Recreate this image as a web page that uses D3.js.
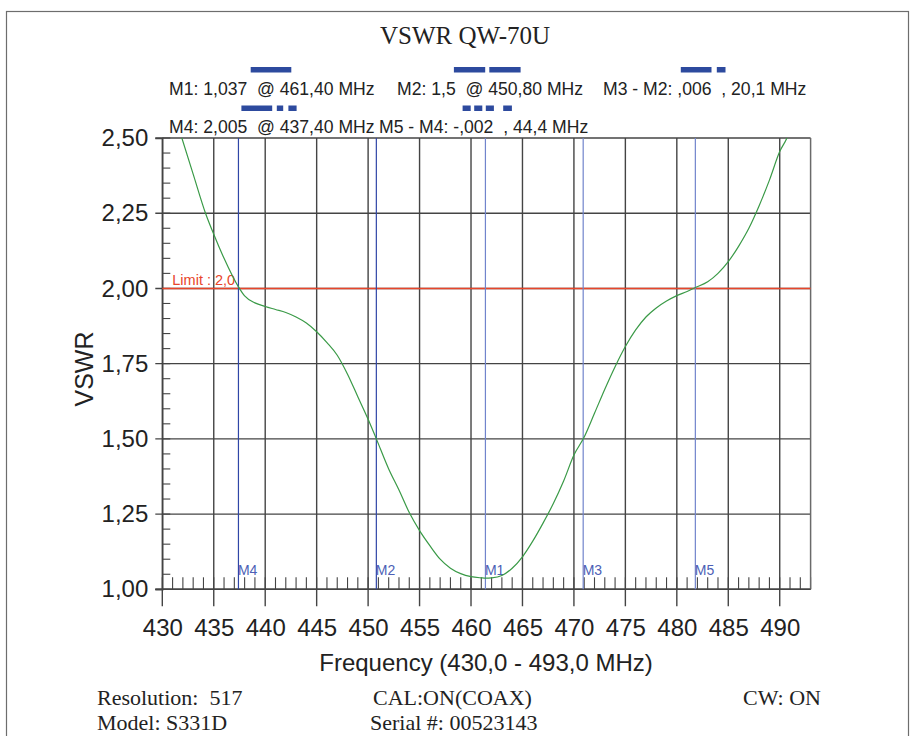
<!DOCTYPE html>
<html>
<head>
<meta charset="utf-8">
<script src="https://cdn.jsdelivr.net/npm/d3@7"></script>
<style>
  body { margin: 0; background: #fff; }
  svg text { white-space: pre; }
</style>
</head>
<body>
<div class="chart"></div>
<script>
// Sweep data (MHz / VSWR)
var freqs = [430, 431, 431.9, 433, 434.2, 435, 436, 437.4, 438, 439, 440, 441, 442, 443, 444, 445,
  446, 447, 448, 449, 450, 450.8, 452, 453, 454, 455, 456, 457, 458, 459, 460, 461, 461.4, 462,
  463, 464, 465, 466, 467, 468, 469, 470, 471, 472, 473, 474, 475, 476, 477, 478, 479, 480, 481,
  481.8, 483, 484, 485, 486, 487, 488, 489, 490, 490.7, 491.5, 493];
var vswr = [2.72, 2.60, 2.50, 2.38, 2.25, 2.18, 2.10, 2.005, 1.975, 1.952, 1.940, 1.930, 1.920, 1.905, 1.885, 1.856,
  1.820, 1.778, 1.715, 1.640, 1.565, 1.500, 1.400, 1.330, 1.255, 1.195, 1.145, 1.100, 1.070, 1.052, 1.042, 1.038, 1.037, 1.038,
  1.046, 1.070, 1.108, 1.160, 1.220, 1.285, 1.360, 1.446, 1.506, 1.585, 1.665, 1.740, 1.807, 1.862, 1.905, 1.935, 1.958, 1.976, 1.990,
  2.003, 2.022, 2.050, 2.089, 2.140, 2.200, 2.275, 2.360, 2.455, 2.500, 2.580, 2.750];

var markerNames = ["M1", "M2", "M3", "M4", "M5"];
var markerFreqs = [461.4, 450.8, 470.9, 437.4, 481.8];
var markerDark = [false, true, false, true, false];

var limitValue = 2.0;
var limitLabel = "Limit : 2,0";

var xTickValues = [430, 435, 440, 445, 450, 455, 460, 465, 470, 475, 480, 485, 490];
var yTickValues = [1.00, 1.25, 1.50, 1.75, 2.00, 2.25, 2.50];

var title = "VSWR QW-70U";
var legendRow1 = ["M1: 1,037  @ 461,40 MHz", "M2: 1,5  @ 450,80 MHz", "M3 - M2: ,006  , 20,1 MHz"];
var legendRow2 = ["M4: 2,005  @ 437,40 MHz", "M5 - M4: -,002  , 44,4 MHz"];
var infoLeft = ["Resolution:  517", "Model: S331D"];
var infoMid = ["CAL:ON(COAX)", "Serial #: 00523143"];
var infoRight = ["CW: ON"];

// Page + plot geometry
var svgWidth = 910, svgHeight = 736;
var plot = { left: 162.3, right: 810.6, top: 138, bottom: 589.3 };

var svg = d3.select(".chart").append("svg")
  .attr("width", svgWidth)
  .attr("height", svgHeight);

// outer frame
svg.append("rect")
  .attr("x", 6.5).attr("y", 11.5)
  .attr("width", 902).attr("height", 740)
  .attr("fill", "none").attr("stroke", "#6d6d6d").attr("stroke-width", 1.2);

var x = d3.scaleLinear().domain([430, 493]).range([plot.left, plot.right]);
var y = d3.scaleLinear().domain([1, 2.5]).range([plot.bottom, plot.top]);

var comma = d3.formatLocale({ decimal: ",", thousands: ".", grouping: [3], currency: ["", ""] });
var fmtY = comma.format(".2f");

var gridColor = "#444";

// minor y ticks every 0.05
svg.append("g").selectAll("line")
  .data(d3.range(1, 2.5001, 0.05))
  .enter().append("line")
  .attr("x1", plot.left).attr("x2", plot.left + 8)
  .attr("y1", d => y(d)).attr("y2", d => y(d))
  .attr("stroke", gridColor).attr("stroke-width", 1.1);

// minor x ticks every 1 MHz
svg.append("g").selectAll("line")
  .data(d3.range(430, 493.5, 1))
  .enter().append("line")
  .attr("x1", d => x(d)).attr("x2", d => x(d))
  .attr("y1", plot.bottom - 12).attr("y2", plot.bottom)
  .attr("stroke", gridColor).attr("stroke-width", 1.1);

// horizontal grid
svg.append("g").selectAll("line")
  .data(yTickValues)
  .enter().append("line")
  .attr("x1", plot.left - 7).attr("x2", plot.right)
  .attr("y1", d => y(d)).attr("y2", d => y(d))
  .attr("stroke", gridColor).attr("stroke-width", 1.4);

// vertical grid
svg.append("g").selectAll("line")
  .data(xTickValues)
  .enter().append("line")
  .attr("x1", d => x(d)).attr("x2", d => x(d))
  .attr("y1", plot.top).attr("y2", plot.bottom + 17)
  .attr("stroke", gridColor).attr("stroke-width", 1.4);

// right border
svg.append("line")
  .attr("x1", plot.right).attr("x2", plot.right)
  .attr("y1", plot.top).attr("y2", plot.bottom)
  .attr("stroke", "#6a6a6a").attr("stroke-width", 1.5);

// axes (labels only, lines drawn above)
var bottomAxis = d3.axisBottom(x).tickValues(xTickValues).tickSize(17).tickPadding(13).tickFormat(d3.format("d"));
var leftAxis = d3.axisLeft(y).tickValues(yTickValues).tickSize(7).tickPadding(7).tickFormat(fmtY);

var gx = svg.append("g")
  .attr("transform", `translate(0, ${plot.bottom})`)
  .call(bottomAxis);
var gy = svg.append("g")
  .attr("transform", `translate(${plot.left}, 0)`)
  .call(leftAxis);

[gx, gy].forEach(function(g) {
  g.select(".domain").attr("stroke", gridColor).attr("stroke-width", 1.4);
  g.selectAll(".tick line").attr("stroke", "none");
  g.selectAll(".tick text")
    .attr("font-family", "'Liberation Sans', Arial, sans-serif")
    .attr("font-size", 24)
    .attr("fill", "#222");
});
gx.select(".domain").attr("d", `M${plot.left - 7},0H${plot.right}`);

// limit line
svg.append("line")
  .attr("x1", plot.left).attr("x2", plot.right)
  .attr("y1", y(limitValue)).attr("y2", y(limitValue))
  .attr("stroke", "#e8452a").attr("stroke-width", 1.4);
svg.append("text")
  .attr("x", plot.left + 10).attr("y", y(limitValue) - 3)
  .attr("font-family", "'Liberation Sans', Arial, sans-serif")
  .attr("font-size", 14.5)
  .attr("fill", "#e8452a")
  .text(limitLabel);

// marker lines
var markers = markerNames.map((n, i) => ({ name: n, f: markerFreqs[i], dark: markerDark[i] }));
var mg = svg.append("g").selectAll("g")
  .data(markers)
  .enter().append("g");
mg.append("line")
  .attr("x1", d => x(d.f)).attr("x2", d => x(d.f))
  .attr("y1", plot.top).attr("y2", plot.bottom)
  .attr("stroke", d => d.dark ? "#2f46a6" : "#7184cc")
  .attr("stroke-width", 1.2);
mg.append("text")
  .attr("x", d => x(d.f) - 0.5)
  .attr("y", plot.bottom - 14.5)
  .attr("font-family", "'Liberation Sans', Arial, sans-serif")
  .attr("font-size", 14)
  .attr("fill", "#4d5fb6")
  .text(d => d.name);

// trace
svg.append("clipPath").attr("id", "plotClip")
  .append("rect")
  .attr("x", plot.left).attr("y", plot.top)
  .attr("width", plot.right - plot.left).attr("height", plot.bottom - plot.top);

var traceData = freqs.map((f, i) => ({ f: f, v: vswr[i] }));
var line = d3.line()
  .x(d => x(d.f))
  .y(d => y(d.v))
  .curve(d3.curveMonotoneX);

svg.append("path")
  .datum(traceData)
  .attr("clip-path", "url(#plotClip)")
  .attr("d", line)
  .attr("fill", "none")
  .attr("stroke", "#3a9a47")
  .attr("stroke-width", 1.2);

// axis titles
svg.append("text")
  .attr("transform", "translate(93, 369) rotate(-90)")
  .attr("text-anchor", "middle")
  .attr("font-family", "'Liberation Sans', Arial, sans-serif")
  .attr("font-size", 25)
  .attr("fill", "#222")
  .text("VSWR");

svg.append("text")
  .attr("x", 486).attr("y", 671)
  .attr("text-anchor", "middle")
  .attr("font-family", "'Liberation Sans', Arial, sans-serif")
  .attr("font-size", 24)
  .attr("fill", "#222")
  .text("Frequency (430,0 - 493,0 MHz)");

// title
svg.append("text")
  .attr("x", 465).attr("y", 44)
  .attr("text-anchor", "middle")
  .attr("font-family", "'Liberation Serif', 'Times New Roman', serif")
  .attr("font-size", 25)
  .attr("fill", "#222")
  .text(title);

// marker readout
var sans = "'Liberation Sans', Arial, sans-serif";
var row1X = [169, 397, 603];
var row2X = [169, 379];
legendRow1.forEach(function(t, i) {
  svg.append("text").attr("x", row1X[i]).attr("y", 95)
    .attr("font-family", sans).attr("font-size", 17.6).attr("fill", "#222").text(t);
});
legendRow2.forEach(function(t, i) {
  svg.append("text").attr("x", row2X[i]).attr("y", 133)
    .attr("font-family", sans).attr("font-size", 17.6).attr("fill", "#222").text(t);
});

// little pattern swatches above each readout
var swatches = [
  [250.7, 67, 40.6], [453.9, 67, 31.3], [489.3, 67, 31.3], [680.8, 67, 30.7], [716.8, 67, 8.7],
  [241.4, 105.5, 30.8], [276.8, 105.5, 6.4], [288.4, 105.5, 8.2],
  [462.6, 105.5, 8.1], [474.2, 105.5, 8.1], [485.8, 105.5, 8.1], [503.2, 105.5, 8.7]
];
svg.append("g").selectAll("rect")
  .data(swatches)
  .enter().append("rect")
  .attr("x", d => d[0]).attr("y", d => d[1])
  .attr("width", d => d[2]).attr("height", 5.5)
  .attr("fill", "#2d4a9e");

// instrument info
var serif = "'Liberation Serif', 'Times New Roman', serif";
var infoY = [705, 730];
infoLeft.forEach(function(t, i) {
  svg.append("text").attr("x", 97).attr("y", infoY[i])
    .attr("font-family", serif).attr("font-size", 22).attr("fill", "#222").text(t);
});
infoMid.forEach(function(t, i) {
  svg.append("text").attr("x", i === 0 ? 373 : 370).attr("y", infoY[i])
    .attr("font-family", serif).attr("font-size", 22).attr("fill", "#222").text(t);
});
infoRight.forEach(function(t, i) {
  svg.append("text").attr("x", 743).attr("y", infoY[i])
    .attr("font-family", serif).attr("font-size", 22).attr("fill", "#222").text(t);
});
</script>
</body>
</html>
